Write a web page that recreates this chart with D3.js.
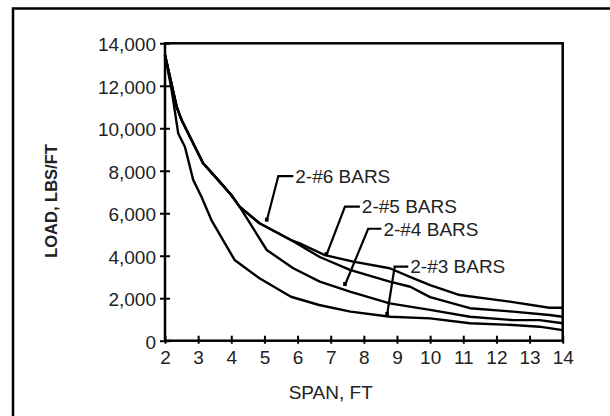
<!DOCTYPE html>
<html>
<head>
<meta charset="utf-8">
<script src="https://cdn.jsdelivr.net/npm/d3@7"></script>
<style>
    body { margin: 0; background: #fff; }
    svg { display: block; font-family: 'Liberation Sans', Arial, sans-serif; }
    .axis text { font-size: 19px; fill: #222; }
    .axis line { stroke: #000; stroke-width: 2; }
    .curve { fill: none; stroke: #000; stroke-width: 2.4; stroke-linejoin: round; }
    .leader { fill: none; stroke: #000; stroke-width: 2.2; }
    .callout { font-size: 19px; fill: #222; }
</style>
</head>
<body>
<div id="chart"></div>
<script>
// x ticks (span, ft) and y ticks (load, lbs/ft)
const spanTicks = d3.range(2, 15);
const loadTicks = [0, 2000, 4000, 6000, 8000, 10000, 12000, 14000];

// curves: span (ft) and load (lbs/ft)
const bars3Span = [2.0, 2.2, 2.4, 2.6, 2.85, 3.1, 3.4, 4.1, 4.85, 5.8, 6.65, 7.6, 8.8, 10.0, 11.2, 12.5, 13.3, 14.0];
const bars3Load = [13450, 11800, 9750, 9130, 7570, 6780, 5680, 3800, 2940, 2070, 1680, 1370, 1130, 1050, 820, 740, 660, 500];

const bars4Span = [2.0, 2.35, 2.5, 3.15, 3.6, 4.0, 4.25, 5.07, 5.87, 6.67, 7.58, 8.78, 10.0, 11.2, 12.5, 13.3, 14.0];
const bars4Load = [13450, 11020, 10390, 8350, 7570, 6860, 6310, 4270, 3410, 2780, 2310, 1760, 1450, 1130, 970, 970, 820];

const bars5Span = [2.0, 2.35, 2.5, 3.15, 3.6, 4.0, 4.25, 4.85, 5.8, 6.67, 7.58, 8.78, 9.4, 10.0, 11.2, 12.5, 13.6, 14.0];
const bars5Load = [13450, 11020, 10390, 8350, 7570, 6860, 6310, 5530, 4740, 3940, 3330, 2780, 2540, 2050, 1530, 1370, 1210, 1130];

const bars6Span = [2.0, 2.35, 2.5, 3.15, 3.6, 4.0, 4.25, 4.85, 5.8, 6.05, 6.82, 7.68, 8.78, 9.48, 10.0, 10.89, 12.0, 12.4, 13.6, 14.0];
const bars6Load = [13450, 11020, 10390, 8350, 7570, 6860, 6310, 5530, 4740, 4590, 4030, 3720, 3410, 2950, 2620, 2150, 1920, 1840, 1550, 1550];

// callouts: label, tip (span, load), elbow (span, load), end of the short horizontal (span)
const calloutLabels = ['2-#6 BARS', '2-#5 BARS', '2-#4 BARS', '2-#3 BARS'];
const calloutTip = [[5.07, 5650], [6.87, 4030], [7.43, 2620], [8.70, 1210]];
const calloutElbow = [[5.42, 7750], [7.43, 6310], [8.13, 5270], [8.93, 3490]];
const calloutEnd = [5.87, 7.88, 8.53, 9.34];

const series = [
    {span: bars3Span, load: bars3Load},
    {span: bars4Span, load: bars4Load},
    {span: bars5Span, load: bars5Load},
    {span: bars6Span, load: bars6Load}
];

// layout
const width = 610, height = 416;
const margin = {t: 43.3, r: 47.3, b: 75.3, l: 165};

const svg = d3.select('#chart').append('svg')
    .attr('width', width)
    .attr('height', height);

// outer frame of the figure
svg.append('rect')
    .attr('x', 13).attr('y', 8.5)
    .attr('width', width + 20).attr('height', height + 20)
    .attr('fill', 'none').attr('stroke', '#000').attr('stroke-width', 2.5);

// scales
const scaleX = d3.scaleLinear()
    .domain([2, 14])
    .range([margin.l, width - margin.r]);

const scaleY = d3.scaleLinear()
    .domain([0, 14000])
    .range([height - margin.b, margin.t]);

// axes
const axisY = d3.axisLeft(scaleY)
    .tickValues(loadTicks)
    .tickFormat(d3.format(','))
    .tickSize(5)
    .tickPadding(4);

const axisX = d3.axisBottom(scaleX)
    .tickValues(spanTicks)
    .tickSize(3)
    .tickPadding(7);

const gy = svg.append('g')
    .attr('class', 'axis axis-y')
    .attr('transform', `translate(${margin.l},0)`)
    .call(axisY);
gy.select('.domain').remove();
gy.selectAll('.tick line').attr('x1', 5).attr('x2', -5);
gy.selectAll('.tick text').attr('dy', '0.4em');

const gx = svg.append('g')
    .attr('class', 'axis axis-x')
    .attr('transform', `translate(0,${height - margin.b})`)
    .call(axisX);
gx.select('.domain').remove();
gx.selectAll('.tick line').attr('y1', -5).attr('y2', 3);

// plot frame (axes + box)
svg.append('rect')
    .attr('x', scaleX(2)).attr('y', scaleY(14000))
    .attr('width', scaleX(14) - scaleX(2))
    .attr('height', scaleY(0) - scaleY(14000))
    .attr('fill', 'none').attr('stroke', '#000').attr('stroke-width', 2.5);

// curves
const line = d3.line()
    .x(d => scaleX(d[0]))
    .y(d => scaleY(d[1]));

svg.append('g').selectAll('.curve')
    .data(series)
    .join('path')
    .attr('class', 'curve')
    .attr('d', s => line(s.span.map((x, i) => [x, s.load[i]])));

// callouts
const callouts = calloutLabels.map((label, i) => ({
    label, tip: calloutTip[i], elbow: calloutElbow[i], end: calloutEnd[i]
}));

const cg = svg.append('g').selectAll('g')
    .data(callouts)
    .join('g');

cg.append('path')
    .attr('class', 'leader')
    .attr('d', d => `M${scaleX(d.tip[0])},${scaleY(d.tip[1])}` +
        `L${scaleX(d.elbow[0])},${scaleY(d.elbow[1])}` +
        `H${scaleX(d.end)}`);

cg.append('rect')
    .attr('x', d => scaleX(d.tip[0]) - 1.8)
    .attr('y', d => scaleY(d.tip[1]) - 3)
    .attr('width', 3.6).attr('height', 4)
    .attr('fill', '#000');

cg.append('text')
    .attr('class', 'callout')
    .attr('x', d => scaleX(d.end) + 2)
    .attr('y', d => scaleY(d.elbow[1]))
    .attr('dy', '0.36em')
    .text(d => d.label);

// axis titles
svg.append('text')
    .attr('x', 330.7).attr('y', 398.5)
    .attr('text-anchor', 'middle')
    .style('font-size', '19px').style('fill', '#222')
    .text('SPAN, FT');

svg.append('text')
    .attr('transform', 'translate(51,201) rotate(-90)')
    .attr('text-anchor', 'middle')
    .attr('dy', '0.36em')
    .style('font-size', '16.5px').style('font-weight', 'bold').style('fill', '#222')
    .text('LOAD, LBS/FT');
</script>
</body>
</html>
